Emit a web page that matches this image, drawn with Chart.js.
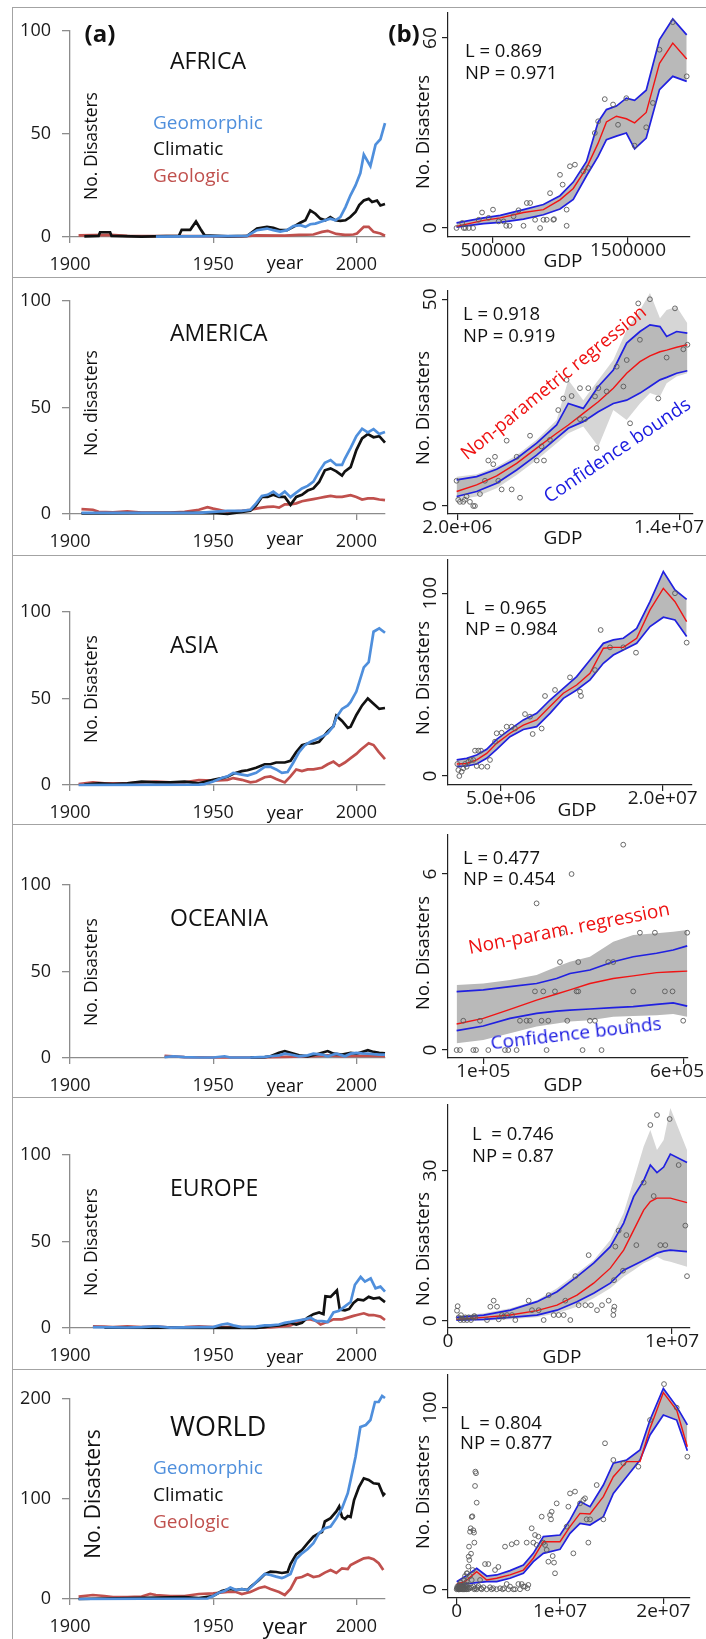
<!DOCTYPE html>
<html>
<head>
<meta charset="utf-8">
<script src="https://cdn.jsdelivr.net/npm/chart.js@4.4.1/dist/chart.umd.min.js"></script>
<style>
body{margin:0;background:#fff;font-family:'Open Sans',sans-serif}
#fig{position:relative;width:706px;height:1639px;overflow:hidden;background:#fff}
#fig canvas{position:absolute}
.t{position:absolute;white-space:pre;color:#111;line-height:1}
.hl{position:absolute;left:12px;right:0;height:1px;background:#a3a3a3}
.vl{position:absolute;left:12px;top:7px;bottom:0;width:1px;background:#a3a3a3}
</style>
</head>
<body>
<div id="fig"></div>
<script>
// ---- (a) yearly counts, [year, value] ----
const yearTicks = [1900, 1950, 2000];
const yTicks100 = [0, 50, 100];
const yTicks200 = [0, 100, 200];

const afrGeo = [[1930,0.2],[1961.8,0.5],[1965.3,3.3],[1968.8,4.1],[1971,3.3],[1973.4,2.6],[1975.8,3.3],[1978,5.3],[1980.4,5.7],[1982.2,4.9],[1983.9,6.2],[1985.7,6.5],[1987.4,7.3],[1989.2,8.1],[1990.9,8.9],[1992.7,8.1],[1994.4,9.7],[1996.2,14.5],[1997.9,20.1],[1999.7,25],[2001.4,31],[2002.6,40],[2004.9,34.4],[2006.7,44.8],[2008.4,47.4],[2010,55.2]];
const afrClim = [[1905,0.3],[1910,0.5],[1910.5,2.3],[1914,2.3],[1914.5,0.5],[1925,0.2],[1938,0.5],[1939,3.5],[1942,3.5],[1944,7.5],[1945.5,4],[1947,0.8],[1955,0.3],[1961.8,0.5],[1965.3,4.1],[1968.8,4.9],[1971,4.5],[1973.4,3.3],[1975.8,3.3],[1978,4.9],[1980.4,6.9],[1982.2,8.1],[1983.9,12.9],[1985.7,11.3],[1987.4,8.9],[1989.2,8.1],[1990.9,9.7],[1992.7,8.1],[1994.4,7.8],[1996.2,8.1],[1997.9,9.7],[1999.7,12.1],[2001,15.5],[2002.6,17.7],[2004.3,18.5],[2005.5,17],[2007.2,17.7],[2008.4,15.3],[2010,16]];
const afrGeol = [[1903,0.8],[1914,1],[1920,0.5],[1960,0.3],[1965,0.8],[1975,0.7],[1980,1],[1985,1.2],[1988,2.5],[1990,3],[1993,1.5],[1996,1],[1999,1.2],[2000.2,1.7],[2002.6,4.9],[2004.3,4.9],[2006,2.5],[2008.4,1.7],[2010,0.6]];

const amGeo = [[1904,0.5],[1945,0.5],[1950,1],[1955,1.5],[1960,1.5],[1963,2],[1965,5],[1967,8.5],[1969,9],[1971,10.5],[1973,8.5],[1975,10.5],[1977,7.9],[1979,10],[1981,12],[1983,13.2],[1985,15.2],[1987,20],[1989,24],[1991,25.3],[1993,23],[1995,23],[1996,26],[1998,31],[2000,36.5],[2002,40],[2004,38.3],[2006,39.8],[2008,37.5],[2010,38.5]];
const amClim = [[1904,0.3],[1950,0.5],[1955,0],[1960,1],[1963,1.5],[1965,4],[1967,8],[1969,8],[1971,9],[1973,8],[1975,8],[1977,4.3],[1979,8],[1981,9],[1983,11],[1985,12],[1987,15],[1989,20.5],[1991,21.4],[1993,20],[1995,18],[1996,20],[1998,22],[2000,30],[2002,35.5],[2004,37.5],[2006,36],[2008,36.5],[2010,33.5]];
const amGeol = [[1904,2.3],[1908,2],[1910,1],[1915,0.8],[1920,1.2],[1925,0.7],[1935,0.7],[1940,1],[1945,2],[1948,3.2],[1950,2.5],[1952,2],[1955,1],[1960,1.5],[1963,2],[1965,2.5],[1967,3],[1969,3.3],[1971,3.5],[1973,3],[1975,4.5],[1977,4.5],[1979,5],[1981,6],[1983,6.5],[1985,7],[1987,7.5],[1989,8],[1991,8.5],[1993,8],[1995,8],[1998,8.8],[2000,8],[2002,6.8],[2004,7.3],[2006,7.3],[2008,6.8],[2010,6.5]];

const asGeo = [[1903,0],[1945,0.2],[1947,0.5],[1950,2],[1953,4],[1955,5],[1957,7],[1960,6],[1962,5.4],[1965,7],[1968,10.5],[1970,10.5],[1972,9],[1974,7],[1976,7.5],[1978,13],[1980,19],[1982,23],[1984,25],[1986,26.5],[1988,28],[1990,30],[1992,34],[1993,39],[1995,44],[1997,46],[1998,48],[2000,54],[2002.6,68],[2004.3,71],[2006,88.6],[2008,90.5],[2010,88]];
const asClim = [[1905,0.3],[1910,1],[1915,0.5],[1920,1],[1925,2],[1930,1.5],[1935,1.5],[1940,2],[1945,1],[1950,3],[1953,4],[1955,4.8],[1957,6.5],[1960,8],[1962,8.5],[1965,10],[1968,12],[1970,12],[1972,13],[1975,13],[1977,14],[1979,19],[1981,23],[1983,24],[1985,24],[1987,25],[1988,27],[1990,31],[1992,34],[1993,40],[1995,37],[1997,33],[1998,33.7],[2000,40.5],[2002,46],[2004,50],[2006,47],[2008,44],[2010,44.5]];
const asGeol = [[1903,0.5],[1908,1.5],[1912,1],[1920,1],[1925,1.5],[1930,2],[1935,1.5],[1940,1.5],[1945,2.9],[1950,2.5],[1955,3],[1957,4],[1960,3],[1963,1.5],[1965,2],[1968,4.5],[1970,5],[1972,3.5],[1975,1.5],[1977,5],[1979,9],[1981,8],[1983,9],[1985,9],[1988,10],[1990,12],[1992,13.5],[1994,11],[1996,13],[1998,15.5],[2000,18],[2001.4,20.2],[2004.3,24.1],[2006,23.1],[2007.8,19.2],[2010,15]];

const ocGeo = [[1933,0.5],[1936,1],[1940,0.5],[1945,0.3],[1950,0.3],[1954,1],[1956,0.3],[1963,0.3],[1968,0.7],[1970,1],[1973,1.5],[1975,2.5],[1977,2],[1980,1],[1983,1.5],[1985,2.5],[1988,2],[1990,1],[1992,2],[1993,2.5],[1995,1.5],[1996,1],[1998,2.5],[2000,3],[2002,2.7],[2004,2.5],[2006,2.2],[2008,2],[2010,2]];
const ocClim = [[1963,0.3],[1968,0.5],[1970,1],[1973,3],[1975,4],[1977,3],[1980,1.5],[1983,1],[1986,2],[1988,3],[1990,4],[1992,2.5],[1995,2],[1998,3],[2000,2.5],[2002,3.5],[2004,4.5],[2006,3.5],[2008,3],[2010,2.7]];
const ocGeol = [[1933,1.3],[1936,1],[1940,0.5],[1950,0.3],[1965,0.3],[1975,0.7],[1985,1],[1990,1.5],[1995,1],[2000,1.2],[2005,1.2],[2010,1]];

const euGeo = [[1908,0.5],[1920,0.3],[1925,0.5],[1930,1],[1935,0.2],[1945,0.5],[1950,0.5],[1953,2],[1955,2.5],[1957,1.5],[1960,0.5],[1965,0.8],[1968,1.5],[1970,1.5],[1973,2],[1975,3],[1977,3.5],[1980,4.5],[1982,5],[1984,6],[1986,4],[1988,4],[1990,3.5],[1992,9],[1994,10],[1996,12.5],[1998,15],[1999.5,25],[2001.5,29.5],[2003,26.8],[2005,28.7],[2006.7,22.9],[2008.4,23.9],[2010,21]];
const euClim = [[1912,0.2],[1965,0.1],[1968,0.5],[1970,1],[1973,1.5],[1975,2],[1977,3],[1979,2],[1981,3],[1983,6],[1985,8],[1987,9],[1988.5,8],[1989.2,18.3],[1991,18],[1993.2,21.7],[1994.2,10.6],[1996,10.2],[1997.5,11],[1999,14.5],[2000.5,16.5],[2002.5,16],[2004.3,18],[2006,17],[2008,17.5],[2010,15]];
const euGeol = [[1908,1],[1912,0.8],[1915,0.5],[1920,1],[1925,0.5],[1930,1],[1935,0.2],[1940,0.5],[1945,1],[1950,0.5],[1960,0.5],[1970,0.3],[1975,1],[1977,1.5],[1979,3],[1980,4],[1982,5],[1984,5],[1986,4],[1987.5,2],[1989,3],[1990,3.5],[1992,5],[1995,5],[1997,6],[1999,7],[2000.2,7.5],[2002.6,8.5],[2004.3,7.5],[2006,7.5],[2008.4,6.6],[2010,4.6]];

const wGeo = [[1903,0],[1948,0.5],[1950,3],[1952,6.3],[1954,8],[1956,11.4],[1958,9],[1960,10],[1962,9],[1964,14],[1966,19.7],[1968,25],[1970,24],[1972,22.4],[1974,21],[1975,22],[1977,25],[1979,40],[1981,45.7],[1983,50],[1985,55.8],[1987,65.8],[1989,70.8],[1991,72.5],[1993,80.8],[1995,90.8],[1997,105.8],[1998,119],[1999.7,142],[2001.4,172],[2003.3,174],[2004.9,179],[2006.5,197],[2007.8,197],[2009,203],[2010,201]];
const wClim = [[1903,0],[1940,2],[1945,1],[1950,3],[1953,8],[1956,10],[1958,9],[1960,10],[1962,9],[1963,12],[1966,19],[1968,24.7],[1970,27.4],[1972,27],[1974,26],[1976,27],[1977,35],[1979,44.7],[1981,49],[1983,55.8],[1985,62.4],[1987,65.8],[1988,67],[1989,77.5],[1991,80.8],[1993,87.5],[1994,92.5],[1995,82],[1996,80],[1997,83],[1998,82],[1999.2,99],[2000.9,112],[2002.6,120.7],[2004.3,119],[2006,115.7],[2007.8,115],[2009.4,104],[2010,106]];
const wGeol = [[1903,2.3],[1908,4],[1912,3],[1915,2],[1920,2],[1925,2.5],[1928,5],[1930,4],[1935,3],[1940,3],[1945,5],[1950,5.7],[1955,7],[1958,7],[1960,5],[1963,7],[1966,11],[1968,12.4],[1970,10],[1973,7],[1975,4],[1977,10],[1979,20.7],[1981,22],[1983,24.7],[1985,22],[1987,23],[1989,26.4],[1991,29],[1993,26],[1995,30.7],[1997,30],[1998,34],[2000.2,37.3],[2002.6,40.7],[2004.3,41.3],[2006,39.7],[2007.8,35.7],[2009.4,29]];

// ---- (b) GDP regressions: knots, fit, bounds, bootstrap envelope, observations ----
const afrGdp = [229700,431200,554100,726000,873500,996300,1094600,1192900,1278900,1340300,1414000,1487700,1549100,1635100,1733400,1831700,1934900];
const afrFit = [0.5,2.4,3.2,4.9,5.8,8.9,12.5,19,26.8,33.5,35.3,34.5,33.2,36.5,52,58.4,53.4];
const afrUp = [1.6,3.2,4,5.8,7.4,10.2,14.5,21,33.5,37.4,38.5,41,40.3,43.5,59.5,66,61];
const afrLo = [0.3,1.4,1.8,2.8,4.2,6,9,16.5,22.6,27.9,29,30,25,28.4,43.7,47.9,46.3];
const afrPts = [[229700,0],[271500,1.6],[283800,0],[296100,0],[320700,0],[352600,0],[394300,2.6],[418900,4.9],[468100,3.2],[500000,5.8],[541800,2.1],[578600,2.1],[598300,0.7],[622900,0.7],[652300,3.7],[689200,5.6],[726000,0.7],[750600,7.9],[775200,7.9],[812000,2.6],[848900,0],[873500,2.6],[898000,2.6],[922600,11],[947200,2.6],[952100,2.8],[996300,16.8],[1016000,13.7],[1045500,5.8],[1045500,0.7],[1070000,19.5],[1106900,20],[1168300,17.9],[1205200,19],[1254300,30],[1278900,33.7],[1328000,40.7],[1389400,39],[1426300,32.6],[1487700,41],[1549100,26],[1635100,31.8],[1684300,39.5],[1733400,56.3],[1831700,65],[1934900,47.9]];

const amGdp = [1964000,3042000,4120000,5198000,6275000,7353000,7982000,8790000,9599000,10407000,11126000,11844000,12383000,12922000,13281000,13820000,14395000];
const amFit = [3.5,5.1,7.3,10.3,14,17.6,19.6,22.4,25.2,28.5,32.1,34.9,36.3,37.3,37.7,38.4,39];
const amUp = [6.3,7.1,8.9,11.5,15.2,19.6,24.8,23.6,28.9,32.9,39.4,42.2,43.8,43.4,41,42.2,41.8];
const amLo = [2.3,3.5,5.5,8.7,12.3,16.4,18.8,20.4,22.8,24.8,25.6,27.3,28.9,30.5,31.1,32.1,32.7];
const amGHi = [7.1,7.7,9.5,12.3,16,20.8,30.5,25.6,30.5,35.3,42.6,47.4,51.5,45.4,47.4,48.2,44.2];
const amGLo = [1.5,2.3,4.3,7.5,11.1,15.2,17.6,19.2,14.4,23.2,20.8,24.8,27.3,26.5,29.7,31.3,32.1];
const amPts = [[1960000,6.1],[2050000,1.5],[2140000,1],[2320000,1],[2410000,1.5],[2500000,2.3],[2680000,1],[2860000,0],[2950000,0],[3220000,2.9],[3490000,6.1],[3670000,11],[3940000,10.1],[4030000,11.9],[4210000,6.1],[4390000,4],[4660000,15.8],[4930000,4],[5200000,11.9],[5380000,2],[5920000,17],[6280000,11],[6540000,14.4],[6670000,11],[6990000,16],[7440000,23.2],[7710000,26],[7890000,30.5],[8160000,26.6],[8610000,28.5],[9060000,28.5],[9420000,26.5],[8610000,21],[8880000,21],[9510000,14],[9600000,28.5],[10050000,27.7],[10590000,33.7],[10950000,28.9],[11130000,35.3],[11310000,20],[11750000,49],[11840000,40.2],[12380000,50],[12830000,26],[13280000,35.9],[13730000,47.8],[14180000,37.9],[14400000,39]];

const asGdp = [887000,1814000,2742000,3670000,4598000,5835000,7072000,8309000,9546000,10784000,12021000,13258000,14495000,15423000,16351000,17588000,18825000,20062000,21144000,22227000];
const asFit = [6.6,6.9,8.8,12.4,17.9,23.4,27.9,30.7,38,45.3,49.8,56.2,69.9,70.4,70.4,75.4,90.9,102.7,95.4,84.5];
const asUp = [8.8,9.7,11.5,14.6,20.1,25.5,30.7,34.3,41.6,48,54.4,63.5,72.6,74.5,75.4,80.8,95.4,111.9,101.8,96.7];
const asLo = [5.1,5.5,6.6,9.7,14.6,21.5,25.5,27,34.3,42.5,47.1,52.6,61.7,66.2,69,72.6,81.8,86.9,85.4,76.3];
const asPts = [[948000,6.6],[1041000,3.3],[1134000,0],[1350000,2.4],[1505000,4.2],[1660000,6.6],[1814000,5.1],[1969000,7.8],[2186000,8.8],[2433000,8.8],[2588000,13.9],[2897000,13.9],[3144000,13.9],[2742000,5.5],[3206000,5.1],[3732000,5.1],[3979000,8.8],[4443000,18.8],[4598000,23.4],[5062000,23.7],[5526000,27],[5990000,27],[6299000,26],[7227000,33.9],[7691000,32.5],[7938000,23],[8773000,26],[9083000,43.8],[10010000,47.1],[11402000,54],[12330000,46.2],[12423000,43.8],[13722000,58],[14248000,79.9],[15113000,70.4],[16350000,70.4],[17526000,67.5],[21144000,100],[22227000,73]];

const ocGdp = [33300,100000,166700,233300,283300,316700,366700,425000,475000,533300,575000,610000];
const ocFit = [0.89,1.08,1.39,1.70,1.91,2.05,2.27,2.44,2.53,2.64,2.67,2.69];
const ocUp = [1.99,2.05,2.16,2.27,2.44,2.61,2.73,3.01,3.18,3.30,3.41,3.55];
const ocLo = [0.66,0.82,1.08,1.25,1.33,1.36,1.40,1.45,1.48,1.56,1.61,1.50];
const ocGHi = [2.22,2.27,2.39,2.56,2.84,3.01,3.18,3.69,3.92,3.98,4.03,4.09];
const ocGLo = [0.23,0.34,0.57,0.80,0.91,0.97,1.02,1.14,1.16,1.19,1.23,1.14];
const ocPts = [[33300,0],[41700,0],[50000,1],[75000,0],[81700,0],[91700,1],[112500,0],[154200,0],[162500,0],[183300,0],[191700,1],[208300,1],[216700,1],[229200,2],[233300,5],[245800,1],[250000,2],[262500,1],[258300,0],[279200,2],[291700,3],[297500,4],[310000,1],[320800,6],[337500,3],[333300,2],[337500,2],[348300,0],[366700,1],[379200,1],[395800,0],[412500,3],[425000,3],[450000,7],[465000,1],[475000,2],[491700,4],[529200,4],[554200,2],[573300,2],[600000,1],[610000,4]];

const euGdp = [372000,1592000,2783000,3973000,4866000,5759000,6503000,7247000,7842000,8289000,8735000,9033000,9330000,9628000,9926000,10670000];
const euFit = [0.27,0.67,1.13,2,3.1,5.1,7.5,10.5,14.1,18.1,22.1,23.8,24.5,24.5,24.5,23.6];
const euUp = [0.67,1.13,2.1,3.8,5.8,8.8,11.5,14.8,19.5,24.8,28,31.1,29.6,30.7,33.3,31.6];
const euLo = [0.13,0.27,0.67,1.13,2.1,3.8,5.5,7.5,10.1,11.1,12.1,12.8,13.5,13.9,14.1,13.8];
const euGHi = [0.93,1.47,2.5,4.1,6.5,9.5,12.1,16.1,21.5,28.1,34.8,38.1,34.1,36.1,42.5,34.1];
const euGLo = [0,0,0.27,0.67,1.47,2.8,4.5,6.5,8.8,10.1,11.5,12.1,12.8,12.1,11.8,10.8];
const euPts = [[402000,2],[432000,2.9],[476000,0.67],[551000,0.13],[625000,0.47],[580000,1.1],[699000,0.13],[774000,0.67],[848000,0.13],[923000,0.67],[1027000,0.13],[1116000,0.67],[1176000,0.93],[1220000,0.67],[1741000,0.13],[1890000,2.8],[2039000,4],[2188000,2.8],[2262000,0.27],[2411000,1.13],[2485000,0.8],[2634000,1.13],[2857000,1.13],[3006000,0.13],[3601000,4],[3750000,2.1],[4048000,2.1],[4271000,0.13],[4494000,5.1],[4717000,1.13],[4940000,1.13],[5164000,1.13],[5461000,0.13],[5238000,4],[5684000,8.9],[5833000,3.1],[6131000,3.1],[6280000,13.1],[6384000,3.1],[6652000,2.1],[6875000,3.1],[7173000,4],[7380000,1.13],[7396000,2.1],[7426000,2.8],[7410000,8.1],[7470000,14.8],[7619000,18],[7813000,10],[7961000,17.1],[8408000,15.1],[8735000,27.6],[9033000,39.1],[9182000,24.9],[9330000,41.1],[9479000,15.1],[9702000,15.1],[9896000,40.3],[10298000,31.1],[10595000,19],[10670000,8.9]];

const wGdp = [0,806000,1935000,2903000,3871000,5161000,6452000,7419000,8387000,10000000,10968000,11935000,12903000,14194000,15161000,16452000,17742000,18710000,20000000,21290000,22323000];
const wFit = [2.9,4.2,9.7,5.1,6.1,7.9,10.6,17.1,26.2,26.2,34.5,41.8,41.5,51,62,70.3,70.3,88.6,108.3,98.7,78.5];
const wUp = [4.2,7,11.6,7.3,7.9,10.3,13.4,19.8,29,29.9,38.2,48.3,45.5,57.4,69.4,71.2,76.7,93.2,110.6,100.6,90.5];
const wLo = [2.4,2.9,3.7,4.2,4.2,6.1,8.8,15.2,19.8,22,30.8,36.3,35.4,40,52.8,62,71.2,85,96,93.2,76.3];
const wPts = [[0,0],[30000,0.5],[65000,1.5],[100000,0.5],[120000,1],[161000,0],[180000,0],[200000,1],[240000,1.5],[258000,2.4],[280000,0],[300000,0.5],[323000,0],[350000,1],[387000,3.7],[420000,0],[450000,2],[484000,0.55],[520000,1],[550000,0],[581000,1.5],[600000,2],[645000,0],[680000,1],[710000,5.1],[750000,1],[780000,0],[806000,0],[850000,0.5],[880000,1.5],[903000,2.4],[930000,0],[968000,4.2],[1000000,1],[1032000,8.8],[1050000,2.5],[1100000,0],[1129000,12.5],[1150000,1],[1161000,18],[1194000,23.5],[1250000,0.5],[1290000,31.7],[1355000,33.6],[1400000,1],[1452000,39.8],[1516000,40.2],[1613000,32.5],[1677000,31.2],[1700000,0],[1774000,56.9],[1710000,25.7],[1871000,63.9],[1935000,47.7],[1806000,64.8],[1387000,19.6],[1548000,10.6],[1226000,16.1],[968000,8.8],[806000,7.3],[1290000,7.3],[1452000,5.1],[1613000,1.5],[1774000,0.55],[1935000,0],[2000000,1],[2097000,1.8],[2258000,5.1],[2350000,0.5],[2419000,0],[2581000,1.1],[2742000,13.9],[2903000,0],[3065000,13.9],[3226000,1.1],[3387000,0],[3548000,0.55],[3710000,10.6],[3871000,0],[4032000,12.3],[4194000,0.55],[4452000,0],[4581000,0.55],[4677000,23.5],[4839000,2.9],[5000000,0],[5161000,1.5],[5323000,24.8],[5484000,0],[5645000,0],[5806000,25.7],[5968000,2.9],[6129000,0],[6290000,2.9],[6452000,1.5],[6613000,1.5],[6774000,25.7],[6839000,0.55],[6935000,2.4],[7258000,33.6],[7419000,25.7],[7581000,29.9],[7742000,24.4],[7903000,29],[8226000,40],[8387000,25.7],[8548000,24.4],[8710000,21.7],[8871000,15.2],[9032000,40.9],[9194000,42.7],[9129000,38.5],[9290000,18.3],[9419000,14.7],[9516000,8.8],[9677000,47.3],[10645000,34.5],[10806000,45.5],[10968000,52.8],[11290000,19.8],[11452000,53.8],[11935000,47.3],[12258000,49.2],[12419000,50.1],[12742000,25.7],[12581000,38.5],[12903000,38.5],[13548000,57.4],[14194000,38.5],[14355000,80.4],[15161000,71.2],[16129000,69.4],[17581000,67.5],[18710000,93.2],[20065000,113],[21290000,100],[22323000,73]];

// ---- styling / layout ----
const F = "'Open Sans', sans-serif";
const AX = '#8c8c8c';
const BLUE = '#4f8fdc', RED = '#c0504d', BLK = '#111111';
const fig = document.getElementById('fig');

const leftRows = [
  {geo: afrGeo, clim: afrClim, geol: afrGeol, top: 9, bot: 275, yTop: 28, y0: 237, yMax: 100, yt: yTicks100},
  {geo: amGeo, clim: amClim, geol: amGeol, top: 279, bot: 553, yTop: 299, y0: 514, yMax: 100, yt: yTicks100},
  {geo: asGeo, clim: asClim, geol: asGeol, top: 557, bot: 822, yTop: 612, y0: 785, yMax: 100, yt: yTicks100},
  {geo: ocGeo, clim: ocClim, geol: ocGeol, top: 826, bot: 1095, yTop: 885, y0: 1058, yMax: 100, yt: yTicks100},
  {geo: euGeo, clim: euClim, geol: euGeol, top: 1099, bot: 1367, yTop: 1155, y0: 1328, yMax: 100, yt: yTicks100},
  {geo: wGeo, clim: wClim, geol: wGeol, top: 1371, bot: 1639, yTop: 1399, y0: 1599, yMax: 200, yt: yTicks200}
];

// dense: gray band between blue bounds; light: outer envelope of the bootstrap curves
const rightRows = [
  {gdp: afrGdp, fit: afrFit, up: afrUp, lo: afrLo, pts: afrPts, top: 9, bot: 275, yTop: 13, xAx: 237, right: 690,
   xMin: 166700, xMax: 1959300, yMin: -2.84, yMax: 67.9, xt: [500000, 1500000], xl: ['500000', '1500000'], yt: [0, 60], yl: ['0', '60']},
  {gdp: amGdp, fit: amFit, up: amUp, lo: amLo, lightHi: amGHi, lightLo: amGLo, pts: amPts, top: 279, bot: 553, yTop: 291, xAx: 514, right: 693,
   xMin: 1498800, xMax: 14701000, yMin: -1.94, yMax: 52, xt: [2e6, 1.4e7], xl: ['2.0e+06', '1.4e+07'], yt: [0, 50], yl: ['0', '50']},
  {gdp: asGdp, fit: asFit, up: asUp, lo: asLo, pts: asPts, top: 557, bot: 822, yTop: 560, xAx: 785, right: 692,
   xMin: 82500, xMax: 22722000, yMin: -4.9, yMax: 118.2, xt: [5e6, 2e7], xl: ['5.0e+06', '2.0e+07'], yt: [0, 100], yl: ['0', '100']},
  {gdp: ocGdp, fit: ocFit, up: ocUp, lo: ocLo, denseHi: ocGHi, denseLo: ocGLo, pts: ocPts, top: 826, bot: 1095, yTop: 835, xAx: 1058, right: 688,
   xMin: 11700, xMax: 612000, yMin: -0.27, yMax: 7.33, xt: [1e5, 6e5], xl: ['1e+05', '6e+05'], yt: [0, 6], yl: ['0', '6']},
  {gdp: euGdp, fit: euFit, up: euUp, lo: euLo, lightHi: euGHi, lightLo: euGLo, pts: euPts, top: 1099, bot: 1367, yTop: 1105, xAx: 1328, right: 690,
   xMin: 0, xMax: 10803600, yMin: -1.46, yMax: 43.1, xt: [0, 1e7], xl: ['0', '1e+07'], yt: [0, 30], yl: ['0', '30']},
  {gdp: wGdp, fit: wFit, up: wUp, lo: wLo, pts: wPts, top: 1371, bot: 1639, yTop: 1375, xAx: 1598, right: 690,
   xMin: -842000, xMax: 22580000, yMin: -4.8, yMax: 118, xt: [0, 1e7, 2e7], xl: ['0', '1e+07', '2e+07'], yt: [0, 100], yl: ['0', '100']}
];

// frame lines
[7, 277, 555, 824, 1097, 1369].forEach(y => {
  const d = document.createElement('div'); d.className = 'hl'; d.style.top = y + 'px'; fig.appendChild(d);
});
const vl = document.createElement('div'); vl.className = 'vl'; fig.appendChild(vl);

function txt(s, x, y, o = {}) {
  const d = document.createElement('div');
  d.className = 't'; d.textContent = s;
  d.style.left = x + 'px'; d.style.top = y + 'px';
  d.style.fontSize = (o.size || 18) + 'px';
  if (o.bold) d.style.fontWeight = 'bold';
  if (o.color) d.style.color = o.color;
  d.style.transform = 'translate(' + (o.left ? '0' : '-50%') + ',-50%)' + (o.rot ? ' rotate(' + o.rot + 'deg)' : '');
  fig.appendChild(d);
}

function panelLeft(r) {
  const cv = document.createElement('canvas');
  cv.width = 380; cv.height = r.bot - r.top;
  cv.style.left = '14px'; cv.style.top = r.top + 'px';
  fig.appendChild(cv);
  const ds = [[r.geo, BLUE], [r.clim, BLK], [r.geol, RED]].map(([d, c]) => ({
    data: d.map(p => ({x: p[0], y: p[1]})),
    borderColor: c, borderWidth: 2.7, pointRadius: 0, tension: 0, fill: false, clip: false
  }));
  new Chart(cv, {
    type: 'line',
    data: {datasets: ds},
    options: {
      responsive: false, animation: false, events: [],
      layout: {autoPadding: false, padding: {top: r.yTop - r.top, right: 9, left: 0, bottom: 0}},
      plugins: {legend: {display: false}, tooltip: {enabled: false}},
      scales: {
        x: {type: 'linear', min: 1900, max: 2010,
            afterBuildTicks: s => { s.ticks = yearTicks.map(v => ({value: v})); },
            afterFit: s => { s.height = r.bot - r.y0; },
            grid: {drawOnChartArea: false, tickLength: 6, color: AX, lineWidth: 1.3},
            border: {color: AX, width: 1.3},
            ticks: {font: {family: F, size: 18}, color: '#1a1a1a', padding: 11, maxRotation: 0, autoSkip: false, callback: v => String(v)}},
        y: {type: 'linear', min: 0, max: r.yMax,
            afterBuildTicks: s => { s.ticks = r.yt.map(v => ({value: v})); },
            afterFit: s => { s.width = 56; },
            grid: {drawOnChartArea: false, tickLength: 8, color: AX, lineWidth: 1.3},
            border: {color: AX, width: 1.3},
            ticks: {font: {family: F, size: 18}, color: '#1a1a1a', padding: 11, callback: v => String(v)}}
      }
    }
  });
}

// R-style tick labels: y labels rotated, x labels kept inside the figure edge
const rLabels = {
  id: 'rLabels',
  afterDraw(ch, args, o) {
    const sy = ch.scales.y, sx = ch.scales.x, c = ch.ctx;
    c.save();
    c.font = '19px ' + F; c.fillStyle = '#1a1a1a'; c.textAlign = 'center'; c.textBaseline = 'middle';
    sy.ticks.forEach((t, i) => {
      c.save();
      c.translate(sy.right - 17, sy.getPixelForValue(t.value));
      c.rotate(-Math.PI / 2);
      c.fillText(o.yl[i], 0, 0);
      c.restore();
    });
    sx.ticks.forEach((t, i) => {
      const w = c.measureText(o.xl[i]).width;
      const cx = Math.min(sx.getPixelForValue(t.value), o.edge - w / 2);
      c.fillText(o.xl[i], cx, ch.chartArea.bottom + 14);
    });
    c.restore();
  }
};

function panelRight(r) {
  const cv = document.createElement('canvas');
  cv.width = 370; cv.height = r.bot - r.top;
  cv.style.left = '360px'; cv.style.top = r.top + 'px';
  fig.appendChild(cv);
  const xy = a => r.gdp.map((g, i) => ({x: g, y: a[i]}));
  const line = (a, c, w) => ({data: xy(a), borderColor: c, borderWidth: w, pointRadius: 0, tension: 0, fill: false, clip: false});
  const band = (a, col) => ({data: xy(a), borderWidth: 0, borderColor: 'rgba(0,0,0,0)', pointRadius: 0, tension: 0, fill: col ? '+1' : false, backgroundColor: col, clip: false});
  const ds = [
    {data: r.pts.map(p => ({x: p[0], y: p[1]})), showLine: false, pointRadius: 2.4, pointBorderWidth: 0.9,
     pointBorderColor: '#5a5a5a', pointBackgroundColor: 'rgba(0,0,0,0)', clip: false},
    line(r.fit, '#f01414', 1.4),
    line(r.up, '#2020e0', 1.7),
    line(r.lo, '#2020e0', 1.7),
    band(r.denseHi || r.up, '#b9b9b9'),
    band(r.denseLo || r.lo, null)
  ];
  if (r.lightHi) ds.push(band(r.lightHi, '#d6d6d6'), band(r.lightLo, null));
  new Chart(cv, {
    type: 'line',
    data: {datasets: ds},
    plugins: [rLabels],
    options: {
      responsive: false, animation: false, events: [],
      layout: {autoPadding: false, padding: {top: r.yTop - r.top, right: 370 + 360 - r.right, left: 0, bottom: 0}},
      plugins: {legend: {display: false}, tooltip: {enabled: false}, rLabels: {yl: r.yl, xl: r.xl, edge: 704 - 360}},
      scales: {
        x: {type: 'linear', min: r.xMin, max: r.xMax,
            afterBuildTicks: s => { s.ticks = r.xt.map(v => ({value: v})); },
            afterFit: s => { s.height = r.bot - r.xAx; },
            grid: {drawOnChartArea: false, tickLength: 6, color: '#222', lineWidth: 1.2},
            border: {color: '#222', width: 1.2},
            ticks: {display: false}},
        y: {type: 'linear', min: r.yMin, max: r.yMax,
            afterBuildTicks: s => { s.ticks = r.yt.map(v => ({value: v})); },
            afterFit: s => { s.width = 88; },
            grid: {drawOnChartArea: false, tickLength: 6, color: '#222', lineWidth: 1.2},
            border: {color: '#222', width: 1.2},
            ticks: {display: false}}
      }
    }
  });
}

leftRows.forEach(panelLeft);
rightRows.forEach(panelRight);

// ---- texts ----
txt('(a)', 100, 33, {size: 24, bold: true});
txt('(b)', 404, 33, {size: 24, bold: true});

[['AFRICA', 60], ['AMERICA', 332], ['ASIA', 644], ['OCEANIA', 917], ['EUROPE', 1187]].forEach(([s, y]) => txt(s, 170, y, {size: 23, left: true}));
txt('WORLD', 170, 1425, {size: 27, left: true});

[[122, 148, 175], [1467, 1494, 1521]].forEach(ys => {
  txt('Geomorphic', 153, ys[0], {size: 19, left: true, color: BLUE});
  txt('Climatic', 153, ys[1], {size: 19, left: true, color: BLK});
  txt('Geologic', 153, ys[2], {size: 19, left: true, color: RED});
});

[['No. Disasters', 146], ['No. disasters', 403], ['No. Disasters', 689], ['No. Disasters', 972], ['No. Disasters', 1242]].forEach(([s, y]) => txt(s, 91, y, {size: 17.5, rot: -90}));
txt('No. Disasters', 92, 1494, {size: 21, rot: -90});

[262, 538, 812, 1085, 1356].forEach(y => txt('year', 285, y, {size: 18}));
txt('year', 285, 1625, {size: 22});

[132, 408, 678, 953, 1249, 1492].forEach(y => txt('No. Disasters', 422, y, {size: 18.5, rot: -90}));
[[563, 260], [563, 537], [577, 809], [563, 1084], [562, 1356]].forEach(([x, y]) => txt('GDP', x, y, {size: 19}));

[[465, 50, 'L = 0.869'], [465, 72, 'NP = 0.971'],
 [463, 313, 'L = 0.918'], [463, 335, 'NP = 0.919'],
 [465, 607, 'L  = 0.965'], [465, 628, 'NP = 0.984'],
 [463, 857, 'L = 0.477'], [463, 878, 'NP = 0.454'],
 [472, 1133, 'L  = 0.746'], [472, 1155, 'NP = 0.87'],
 [460, 1422, 'L  = 0.804'], [460, 1442, 'NP = 0.877']].forEach(([x, y, s]) => txt(s, x, y, {size: 18.5, left: true}));

txt('Non-parametric regression', 553, 382, {size: 18.5, rot: -39, color: '#ee1111'});
txt('Confidence bounds', 617, 450, {size: 19, rot: -34, color: '#1a1ae0'});
txt('Non-param. regression', 569, 928, {size: 19, rot: -11, color: '#ee1111'});
txt('Confidence bounds', 576, 1033, {size: 19, rot: -6.6, color: '#1a1ae0'});
</script>
</body>
</html>
